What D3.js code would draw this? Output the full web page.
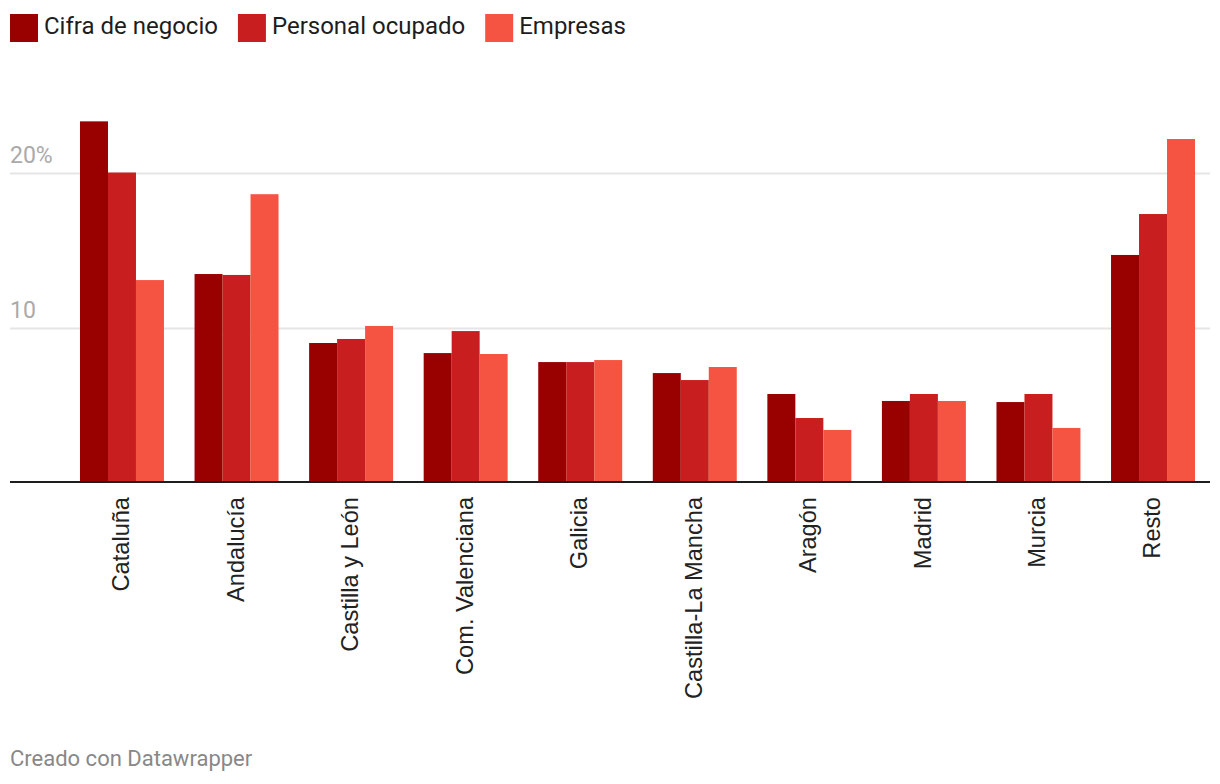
<!DOCTYPE html>
<html>
<head>
<meta charset="utf-8">
<script src="https://cdn.jsdelivr.net/npm/d3@7"></script>
<style>
  html, body { margin: 0; padding: 0; background: #fff; }
  svg { display: block; }
</style>
</head>
<body>
<svg id="chart" width="1220" height="784"></svg>
<script>
const categories = ["Cataluña", "Andalucía", "Castilla y León", "Com. Valenciana", "Galicia", "Castilla-La Mancha", "Aragón", "Madrid", "Murcia", "Resto"];
const seriesNames = ["Cifra de negocio", "Personal ocupado", "Empresas"];
const cifraNegocio   = [23.3, 13.45, 9.0, 8.35, 7.77, 7.06, 5.71, 5.26, 5.19, 14.68];
const personalOcupado = [20.0, 13.39, 9.26, 9.77, 7.77, 6.61, 4.16, 5.71, 5.71, 17.32];
const empresas       = [13.06, 18.6, 10.1, 8.29, 7.9, 7.45, 3.39, 5.26, 3.52, 22.16];
const yTicks = [10, 20];
const yTickLabels = ["10", "20%"];
const colors = ["#990000", "#c91e1f", "#f65442"];

const series = [cifraNegocio, personalOcupado, empresas];
const svg = d3.select("#chart");

const y = d3.scaleLinear().domain([0, 20]).range([482.5, 172.5]);
const x0 = d3.scaleBand().domain(categories).range([64.7, 1210.3]).paddingInner(0.267).paddingOuter(0.1335);
const x1 = d3.scaleBand().domain(d3.range(series.length)).range([0, x0.bandwidth()]);

// gridlines
svg.append("g").selectAll("line").data(yTicks).join("line")
  .attr("x1", 10).attr("x2", 1210)
  .attr("y1", d => Math.round(y(d)) + 0.5).attr("y2", d => Math.round(y(d)) + 0.5)
  .attr("stroke", "#e5e5e5").attr("stroke-width", 2);

svg.append("g").selectAll("text").data(yTicks).join("text")
  .attr("x", 10).attr("y", d => y(d) - 9.5)
  .attr("font-family", "Roboto").attr("font-size", 23)
  .attr("fill", "#aaaaaa")
  .text((d, i) => yTickLabels[i]);

// bars
const groups = svg.append("g").selectAll("g").data(categories).join("g")
  .attr("transform", d => `translate(${x0(d)},0)`);
groups.selectAll("rect").data((d, ci) => series.map((s, si) => ({si, v: s[ci]}))).join("rect")
  .attr("x", d => x1(d.si))
  .attr("width", x1.bandwidth())
  .attr("y", d => y(d.v))
  .attr("height", d => y(0) - y(d.v))
  .attr("fill", d => colors[d.si]);

// baseline
svg.append("line").attr("x1", 10).attr("x2", 1210)
  .attr("y1", 482).attr("y2", 482)
  .attr("stroke", "#1d1d1d").attr("stroke-width", 2);

// x labels
svg.append("g").selectAll("text").data(categories).join("text")
  .attr("transform", d => `translate(${x0(d) + x0.bandwidth() / 2 + 7},497) rotate(-90)`)
  .attr("text-anchor", "end")
  .attr("font-family", "Liberation Sans, Arial, sans-serif").attr("font-size", 23.6)
  .attr("fill", "#222")
  .text(d => d);

// legend
const legend = svg.append("g").attr("transform", "translate(10,14)");
let lx = 0;
seriesNames.forEach((name, i) => {
  const g = legend.append("g").attr("transform", `translate(${lx},0)`);
  g.append("rect").attr("width", 28).attr("height", 28).attr("fill", colors[i]);
  const t = g.append("text").attr("x", 34).attr("y", 20)
    .attr("font-family", "Roboto").attr("font-size", 24).attr("fill", "#1d1d1d")
    .text(name);
  lx += 34 + t.node().getComputedTextLength() + 20;
});

// footer
svg.append("text").attr("x", 10).attr("y", 766)
  .attr("font-family", "Roboto").attr("font-size", 22).attr("fill", "#888888")
  .text("Creado con Datawrapper");
</script>
</body>
</html>
